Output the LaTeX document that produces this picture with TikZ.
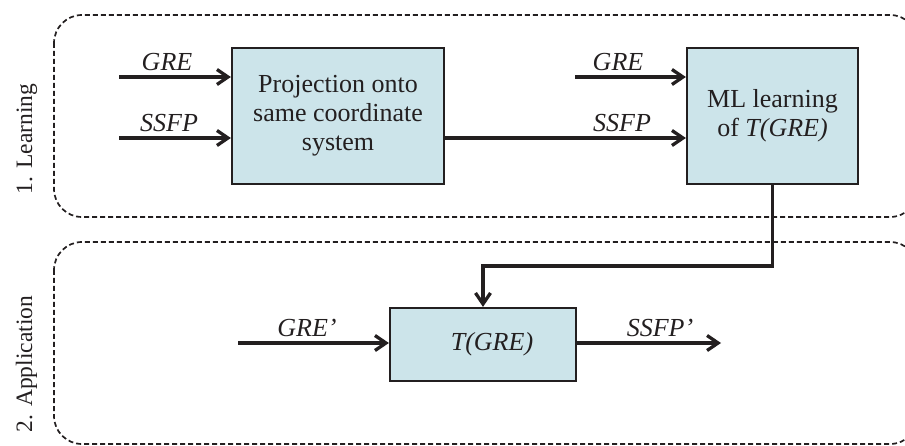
\documentclass[tikz,border=0pt]{standalone}
\usepackage{fontspec}
\setmainfont{Liberation Serif}
\usetikzlibrary{arrows.meta}
\definecolor{boxfill}{RGB}{204,228,234}
\definecolor{ink}{RGB}{35,31,32}
\begin{document}
\begin{tikzpicture}[x=1pt,y=-1pt,
  every node/.style={font=\fontsize{26}{29}\selectfont, text=ink},
  proc/.style={draw=ink, line width=2.2pt, fill=boxfill, inner sep=0pt, align=center},
  flow/.style={draw=ink, line width=3.3pt, line join=miter, -{Straight Barb[length=11pt,width=15pt]}},
  region/.style={draw=ink, dash pattern=on 5pt off 3pt, line width=1.7pt, rounded corners=28pt},
  lbl/.style={font=\fontsize{26}{29}\selectfont\itshape, anchor=base},
  side/.style={rotate=90, anchor=base, font=\fontsize{23.5}{27}\selectfont}
]
\useasboundingbox (0,0) rectangle (905,446);
\draw[region] (54,15) rectangle (918,217);
\draw[region] (54,242) rectangle (918,444);

\node[side] (learn) at (32,139) {1. Learning};
\node[side] (appl) at (32,364) {2. Application};

\node[proc, minimum width=212pt, minimum height=136pt] (proj) at (338,116)
  {Projection onto\\same coordinate\\system};
\node[proc, minimum width=171pt, minimum height=136pt] (ml) at (772.5,116)
  {ML learning\\of \textit{T(GRE)}};
\node[proc, minimum width=186pt, minimum height=73pt] (tg) at (483,344.5) {};
\node[font=\fontsize{26}{29}\selectfont\itshape] (tgt) at (492,344.5) {T(GRE)};

\coordinate (g1) at (119,77);
\coordinate (s1) at (119,138);
\coordinate (g2) at (575,77);
\coordinate (gp) at (238,343);
\coordinate (sp) at (721,343);
\coordinate (bend) at (0,266);

\draw[flow] (g1) -- (g1 -| proj.west);
\draw[flow] (s1) -- (s1 -| proj.west);
\draw[flow] (proj.east |- s1) -- (ml.west |- s1);
\draw[flow] (g2) -- (g2 -| ml.west);
\draw[flow] (ml.south) -- (ml.south |- bend) -- (tg.north |- bend) -- (tg.north);
\draw[flow] (gp) -- (gp -| tg.west);
\draw[flow] (tg.east |- sp) -- (sp);

\node[lbl] (lg1) at (167,71) {GRE};
\node[lbl] (ls1) at (169,132) {SSFP};
\node[lbl] (lg2) at (618,71) {GRE};
\node[lbl] (ls2) at (622,132) {SSFP};
\node[lbl] (lgp) at (307,337) {GRE'};
\node[lbl] (lsp) at (660,337) {SSFP'};
\end{tikzpicture}
\end{document}
